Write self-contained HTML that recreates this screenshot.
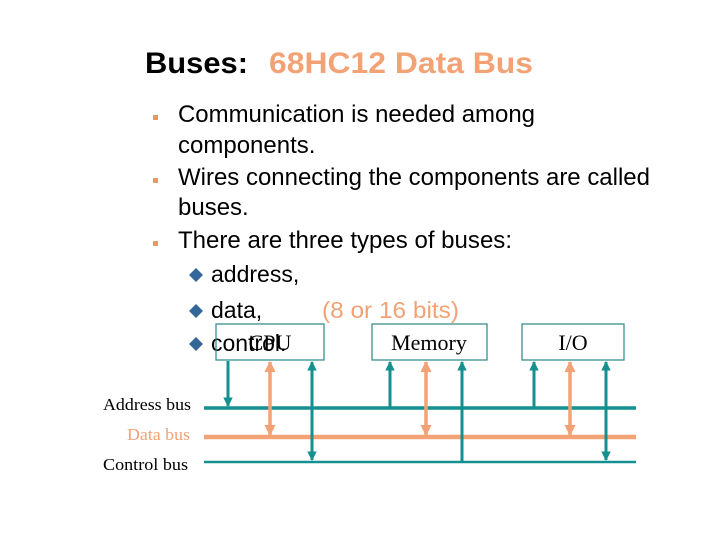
<!DOCTYPE html>
<html><head><style>
body{margin:0;width:720px;height:540px;background:#fff;overflow:hidden}
svg{display:block}
.s{font-family:"Liberation Sans",Arial,sans-serif}
.r{font-family:"Liberation Serif","Times New Roman",serif}
</style></head><body>
<svg width="720" height="540" viewBox="0 0 720 540" xmlns="http://www.w3.org/2000/svg">
<defs>
<marker id="at" viewBox="0 0 10 10" refX="9" refY="5" markerWidth="3.2" markerHeight="3.2" orient="auto-start-reverse"><path d="M0,0L10,5L0,10z" fill="#13908f"/></marker>
<marker id="ao" viewBox="0 0 10 10" refX="9" refY="5" markerWidth="3.2" markerHeight="3.2" orient="auto-start-reverse"><path d="M0,0L10,5L0,10z" fill="#f2a275"/></marker>
</defs>
<text x="145" y="73" class="s" font-size="30" font-weight="bold" fill="#000" textLength="103" lengthAdjust="spacingAndGlyphs">Buses:</text>
<text x="269" y="73" class="s" font-size="30" font-weight="bold" fill="#f2a275" textLength="264" lengthAdjust="spacingAndGlyphs">68HC12 Data Bus</text>
<g class="s" font-size="24" fill="#000">
<rect x="153" y="115" width="5" height="5" fill="#e8956a"/>
<rect x="153" y="178" width="5" height="5" fill="#e8956a"/>
<rect x="153" y="241" width="5" height="5" fill="#e8956a"/>
<text x="178" y="122" textLength="357" lengthAdjust="spacingAndGlyphs">Communication is needed among</text>
<text x="178" y="153">components.</text>
<text x="178" y="185" textLength="472" lengthAdjust="spacingAndGlyphs">Wires connecting the components are called</text>
<text x="178" y="215">buses.</text>
<text x="178" y="248" textLength="334" lengthAdjust="spacingAndGlyphs">There are three types of buses:</text>
<text x="211" y="282" font-size="23">address,</text>
<text x="211" y="318" font-size="23">data,</text>
<text x="322" y="318" font-size="23" fill="#f2a275" textLength="137" lengthAdjust="spacingAndGlyphs">(8 or 16 bits)</text>
<text x="211" y="351" font-size="23">control.</text>
</g>
<g fill="#336699">
<path d="M196,268l7,7l-7,7l-7,-7z"/>
<path d="M196,304l7,7l-7,7l-7,-7z"/>
<path d="M196,337l7,7l-7,7l-7,-7z"/>
</g>
<g fill="none" stroke="#2a8585" stroke-width="1.2">
<rect x="216" y="324" width="108" height="36"/>
<rect x="372" y="324" width="115" height="36"/>
<rect x="522" y="324" width="102" height="36"/>
</g>
<g class="r" font-size="22" fill="#000" text-anchor="middle">
<text x="270" y="350">CPU</text>
<text x="429" y="350">Memory</text>
<text x="573" y="350">I/O</text>
</g>
<g class="r" font-size="17">
<text x="103" y="410" fill="#000" textLength="88" lengthAdjust="spacingAndGlyphs">Address bus</text>
<text x="127" y="440" fill="#f2a275" textLength="63" lengthAdjust="spacingAndGlyphs">Data bus</text>
<text x="103" y="470" fill="#000" textLength="85" lengthAdjust="spacingAndGlyphs">Control bus</text>
</g>
<line x1="204" y1="408" x2="636" y2="408" stroke="#13908f" stroke-width="3.5"/>
<line x1="204" y1="437" x2="636" y2="437" stroke="#f2a275" stroke-width="4.5"/>
<line x1="204" y1="462" x2="636" y2="462" stroke="#13908f" stroke-width="2.5"/>
<g stroke="#13908f" stroke-width="3" fill="none">
<line x1="228" y1="361" x2="228" y2="406" marker-end="url(#at)"/>
<line x1="312" y1="362" x2="312" y2="460" marker-start="url(#at)" marker-end="url(#at)"/>
<line x1="390" y1="408" x2="390" y2="362" marker-end="url(#at)"/>
<line x1="462" y1="462" x2="462" y2="362" marker-end="url(#at)"/>
<line x1="534" y1="408" x2="534" y2="362" marker-end="url(#at)"/>
<line x1="606" y1="362" x2="606" y2="460" marker-start="url(#at)" marker-end="url(#at)"/>
</g>
<g stroke="#f2a275" stroke-width="3.5" fill="none">
<line x1="270" y1="362" x2="270" y2="435" marker-start="url(#ao)" marker-end="url(#ao)"/>
<line x1="426" y1="362" x2="426" y2="435" marker-start="url(#ao)" marker-end="url(#ao)"/>
<line x1="570" y1="362" x2="570" y2="435" marker-start="url(#ao)" marker-end="url(#ao)"/>
</g>
</svg>
</body></html>
